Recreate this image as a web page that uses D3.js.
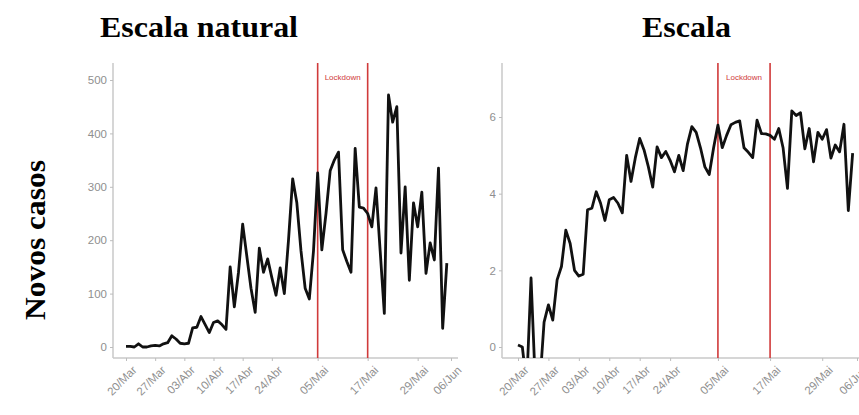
<!DOCTYPE html>
<html>
<head>
<meta charset="utf-8">
<script src="https://cdn.jsdelivr.net/npm/d3@7"></script>
<style>
  body { margin: 0; background: #fff; }
  .tick text { fill: #8f8f8f; font-family: "Liberation Sans", Arial, sans-serif; font-size: 11.5px; }
  .tick line { stroke: #bdbdbd; }
</style>
</head>
<body>
<div id="chart"></div>
<script>
// daily new cases, from 20/Mar
var cases = [1, 1, 0, 6, 0, 0, 2, 3, 2, 6, 8, 21, 15, 7, 6, 7, 36, 37, 57, 42,
  27, 46, 49, 42, 33, 150, 75, 140, 230, 170, 110, 65, 185, 140, 165, 130, 97, 148, 100, 200,
  315, 270, 180, 110, 90, 180, 326, 182, 250, 330, 350, 365, 182, 160, 140, 372, 262, 260, 250, 225,
  298, 180, 63, 472, 421, 450, 176, 300, 125, 270, 225, 290, 138, 195, 163, 335, 35, 157];

// same series on the log panel (days with no case fall below the panel)
var logCases = [0.05, 0, -1, 1.8, -1, -1, 0.65, 1.1, 0.7, 1.75, 2.1, 3.05, 2.7, 2.0, 1.85, 1.9, 3.58, 3.62, 4.05, 3.75,
  3.3, 3.84, 3.9, 3.75, 3.5, 5.0, 4.32, 4.94, 5.44, 5.14, 4.7, 4.17, 5.22, 4.94, 5.1, 4.87, 4.57, 5.0, 4.6, 5.3,
  5.75, 5.6, 5.19, 4.7, 4.5, 5.19, 5.79, 5.2, 5.52, 5.8, 5.86, 5.9, 5.2, 5.08, 4.94, 5.92, 5.57, 5.56, 5.52, 5.42,
  5.7, 5.19, 4.14, 6.16, 6.04, 6.11, 5.17, 5.7, 4.83, 5.6, 5.42, 5.67, 4.93, 5.27, 5.09, 5.81, 3.56, 5.06];

var startDate = new Date(2020, 2, 20);
var tickDates = [new Date(2020, 2, 20), new Date(2020, 2, 27), new Date(2020, 3, 3), new Date(2020, 3, 10),
  new Date(2020, 3, 17), new Date(2020, 3, 24), new Date(2020, 4, 5), new Date(2020, 4, 17),
  new Date(2020, 4, 29), new Date(2020, 5, 6)];
var tickLabels = ["20/Mar", "27/Mar", "03/Abr", "10/Abr", "17/Abr", "24/Abr", "05/Mai", "17/Mai", "29/Mai", "06/Jun"];
var lockdown = [new Date(2020, 4, 5), new Date(2020, 4, 17)];
var leftTicks = [0, 100, 200, 300, 400, 500];
var rightTicks = [0, 2, 4, 6];

var W = 859, H = 415, topY = 63, bottomY = 358;

var svg = d3.select("#chart").append("svg")
  .attr("width", W).attr("height", H);

var defs = svg.append("defs");

function panel(opts) {
  var g = svg.append("g");

  var x = d3.scaleTime()
    .domain([startDate, new Date(2020, 5, 6)])
    .range(opts.xRange);
  var y = d3.scaleLinear()
    .domain(opts.yDomain)
    .range(opts.yRange);

  defs.append("clipPath").attr("id", opts.id)
    .append("rect")
      .attr("x", opts.left).attr("y", topY)
      .attr("width", opts.right - opts.left).attr("height", bottomY - topY);

  // axis lines
  g.append("line")
    .attr("x1", opts.left).attr("x2", opts.left)
    .attr("y1", topY).attr("y2", bottomY)
    .attr("stroke", "#c8c8c8").attr("stroke-width", 1.5);
  g.append("line")
    .attr("x1", opts.left).attr("x2", opts.right)
    .attr("y1", bottomY).attr("y2", bottomY)
    .attr("stroke", "#c8c8c8").attr("stroke-width", 1.5);

  // y axis
  var ya = g.append("g")
    .attr("transform", "translate(" + opts.left + ",0)")
    .call(d3.axisLeft(y).tickValues(opts.yTicks).tickSize(3).tickPadding(3).tickFormat(d3.format("d")));
  ya.select(".domain").remove();

  // x axis
  var xa = g.append("g")
    .attr("transform", "translate(0," + bottomY + ")")
    .call(d3.axisBottom(x).tickValues(tickDates).tickSize(3)
      .tickFormat(function(d, i) { return tickLabels[i]; }));
  xa.select(".domain").remove();
  xa.selectAll(".tick text")
    .attr("text-anchor", "end")
    .attr("x", 0).attr("y", 0)
    .attr("dx", 0).attr("dy", "0.35em")
    .attr("transform", "translate(8,10) rotate(-45)");

  // lockdown lines
  g.selectAll(".lock")
    .data(lockdown)
    .join("line")
      .attr("x1", function(d) { return x(d); })
      .attr("x2", function(d) { return x(d); })
      .attr("y1", topY).attr("y2", bottomY)
      .attr("stroke", "#d03a3a").attr("stroke-width", 1.6);

  g.append("text")
    .attr("x", (x(lockdown[0]) + x(lockdown[1])) / 2)
    .attr("y", 80)
    .attr("text-anchor", "middle")
    .attr("fill", "#d03a3a")
    .style("font-family", "Liberation Sans, Arial, sans-serif")
    .style("font-size", "8px")
    .text("Lockdown");

  // the series
  var line = d3.line()
    .x(function(d, i) { return x(d3.timeDay.offset(startDate, i)); })
    .y(function(d) { return y(d); });

  g.append("path")
    .datum(opts.values)
    .attr("clip-path", "url(#" + opts.id + ")")
    .attr("fill", "none")
    .attr("stroke", "#111")
    .attr("stroke-width", 2.8)
    .attr("stroke-linejoin", "round")
    .attr("d", line);
}

panel({ id: "clipL", values: cases, left: 113, right: 458,
  xRange: [126, 451], yDomain: [0, 500], yRange: [347, 80], yTicks: leftTicks });
panel({ id: "clipR", values: logCases, left: 502, right: 859,
  xRange: [518, 857], yDomain: [0, 6], yRange: [347, 117], yTicks: rightTicks });

// titles
svg.append("text")
  .attr("x", 100).attr("y", 37)
  .attr("textLength", 198).attr("lengthAdjust", "spacingAndGlyphs")
  .style("font-family", "Liberation Serif, Times New Roman, serif")
  .style("font-weight", "bold").style("font-size", "29px")
  .text("Escala natural");

svg.append("text")
  .attr("x", 642).attr("y", 37)
  .attr("textLength", 89).attr("lengthAdjust", "spacingAndGlyphs")
  .style("font-family", "Liberation Serif, Times New Roman, serif")
  .style("font-weight", "bold").style("font-size", "29px")
  .text("Escala");

svg.append("text")
  .attr("transform", "translate(45,320) rotate(-90)")
  .attr("textLength", 160).attr("lengthAdjust", "spacingAndGlyphs")
  .style("font-family", "Liberation Serif, Times New Roman, serif")
  .style("font-weight", "bold").style("font-size", "29px")
  .text("Novos casos");
</script>
</body>
</html>
